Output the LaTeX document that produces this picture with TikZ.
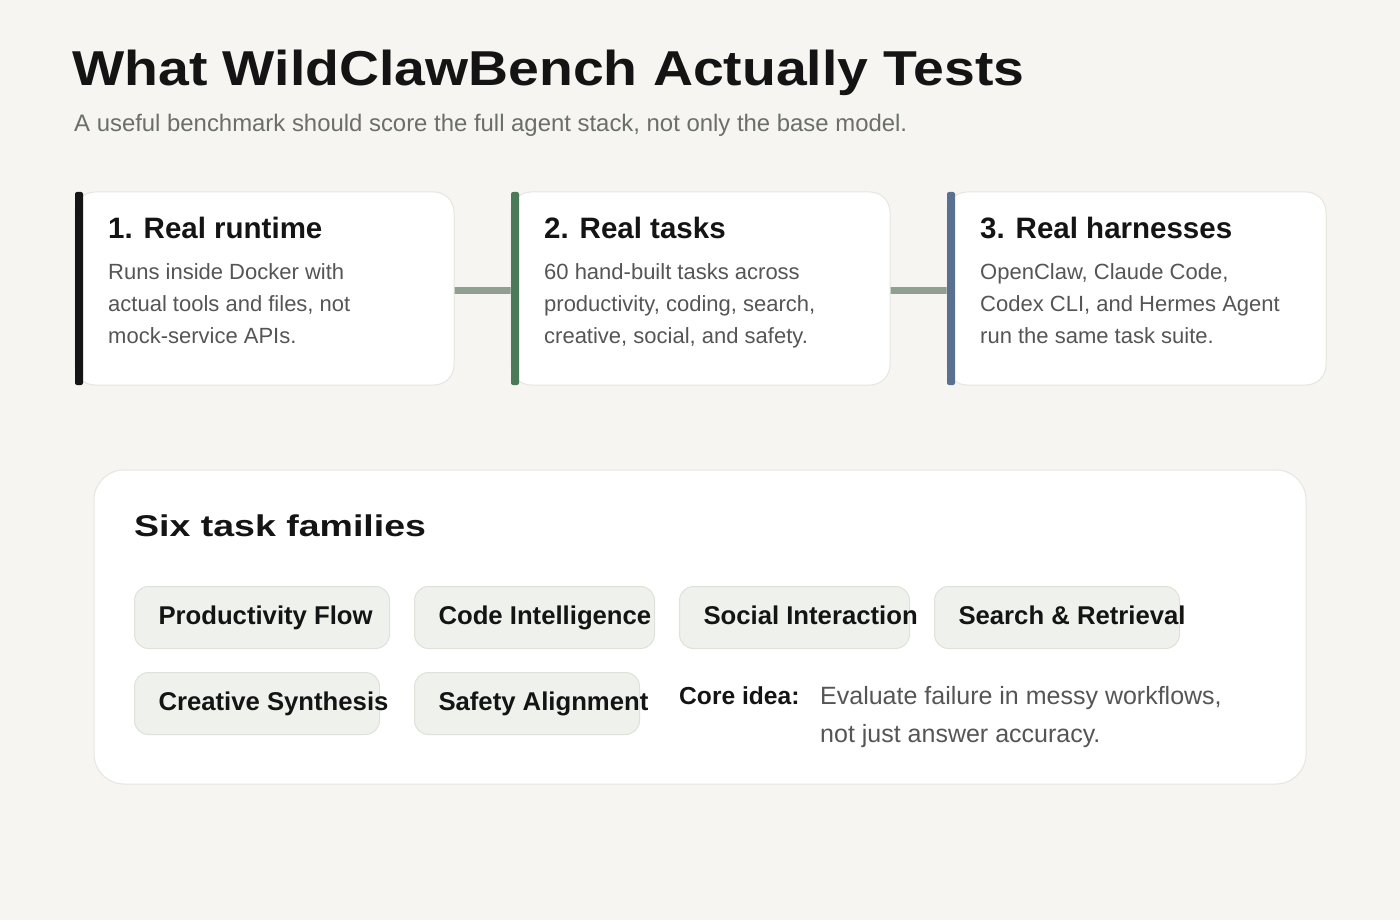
\documentclass[tikz,border=0pt]{standalone}
\usepackage{fontspec}
\setmainfont{Liberation Sans}
\begin{document}
\begin{tikzpicture}[x=1pt,y=-1pt,
  card/.style={draw=cardline,fill=white,rounded corners=20pt,line width=1pt},
  pill/.style={draw=pillline,fill=pillfill,rounded corners=14pt,line width=1pt,minimum height=62pt,anchor=north west,inner xsep=24pt,text height=19pt,text depth=5pt,font=\fontsize{25.7}{30}\selectfont\bfseries,text=titlec},
  ctitle/.style={anchor=base west,font=\fontsize{29.5}{34}\selectfont\bfseries,text=titlec,inner sep=0pt},
  cbody/.style={anchor=base west,font=\fontsize{22}{32}\selectfont,text=bodyc,align=left,inner sep=0pt},
  link/.style={draw=linkc,line width=7pt,line cap=round}]
\definecolor{bg}{HTML}{F6F5F1}
\definecolor{cardline}{HTML}{E6E6E0}
\definecolor{pillline}{HTML}{DFE2DA}
\definecolor{pillfill}{HTML}{EFF1EC}
\definecolor{titlec}{HTML}{141414}
\definecolor{bodyc}{HTML}{555555}
\definecolor{subc}{HTML}{6B6F68}
\definecolor{linkc}{HTML}{8FA090}
\definecolor{barA}{HTML}{151515}
\definecolor{barB}{HTML}{4A7A57}
\definecolor{barC}{HTML}{5A7090}
\fill[bg] (0,0) rectangle (1400,920);
\useasboundingbox (0,0) rectangle (1400,920);
\node[anchor=base west,inner sep=0pt,text=titlec] (title) at (72,86) {\scalebox{1.13}[1]{\fontsize{49}{56}\selectfont\bfseries What WildClawBench Actually Tests}};
\node[anchor=base west,inner sep=0pt,text=subc,font=\fontsize{23.9}{28}\selectfont] (sub) at (74,132) {A useful benchmark should score the full agent stack, not only the base model.};
% links
\coordinate (l1a) at (454,290); \coordinate (l1b) at (512,290);
\coordinate (l2a) at (890,290); \coordinate (l2b) at (948,290);
\draw[link] (l1a) -- (l1b);
\draw[link] (l2a) -- (l2b);
% cards
\foreach \x/\c in {75/barA,511/barB,947/barC}{
  \draw[card] (\x,192) rectangle ++(379,193);
  \fill[\c,rounded corners=2pt] (\x,192) rectangle ++(8,193);
}
\node[ctitle] (t1) at (108,238) {1. Real runtime};
\node[ctitle] (t2) at (544,238) {2. Real tasks};
\node[ctitle] (t3) at (980,238) {3. Real harnesses};
\node[cbody] (b1) at (108,343) {Runs inside Docker with\\actual tools and files, not\\mock-service APIs.};
\node[cbody] (b2) at (544,343) {60 hand-built tasks across\\productivity, coding, search,\\creative, social, and safety.};
\node[cbody] (b3) at (980,343) {OpenClaw, Claude Code,\\Codex CLI, and Hermes Agent\\run the same task suite.};
% panel
\draw[draw=cardline,fill=white,rounded corners=30pt,line width=1pt] (94,470) rectangle (1306,784);
\node[anchor=base west,inner sep=0pt,text=titlec] (six) at (134,536) {\scalebox{1.25}[1]{\fontsize{30}{36}\selectfont\bfseries Six task families}};
\node[pill] (p1) at (134,586) {\makebox[207pt][l]{Productivity Flow}};
\node[pill] (p2) at (414,586) {\makebox[192pt][l]{Code Intelligence}};
\node[pill] (p3) at (679,586) {\makebox[182pt][l]{Social Interaction}};
\node[pill] (p4) at (934,586) {\makebox[197pt][l]{Search \& Retrieval}};
\node[pill] (p5) at (134,672) {\makebox[197pt][l]{Creative Synthesis}};
\node[pill] (p6) at (414,672) {\makebox[177pt][l]{Safety Alignment}};
\node[anchor=base west,inner sep=0pt,text=titlec,font=\fontsize{24.6}{28}\selectfont\bfseries] (core) at (679,704) {Core idea:};
\node[anchor=base west,inner sep=0pt,text=bodyc,font=\fontsize{25}{38}\selectfont,align=left] (coret) at (820,742) {Evaluate failure in messy workflows,\\not just answer accuracy.};
\end{tikzpicture}
\end{document}
